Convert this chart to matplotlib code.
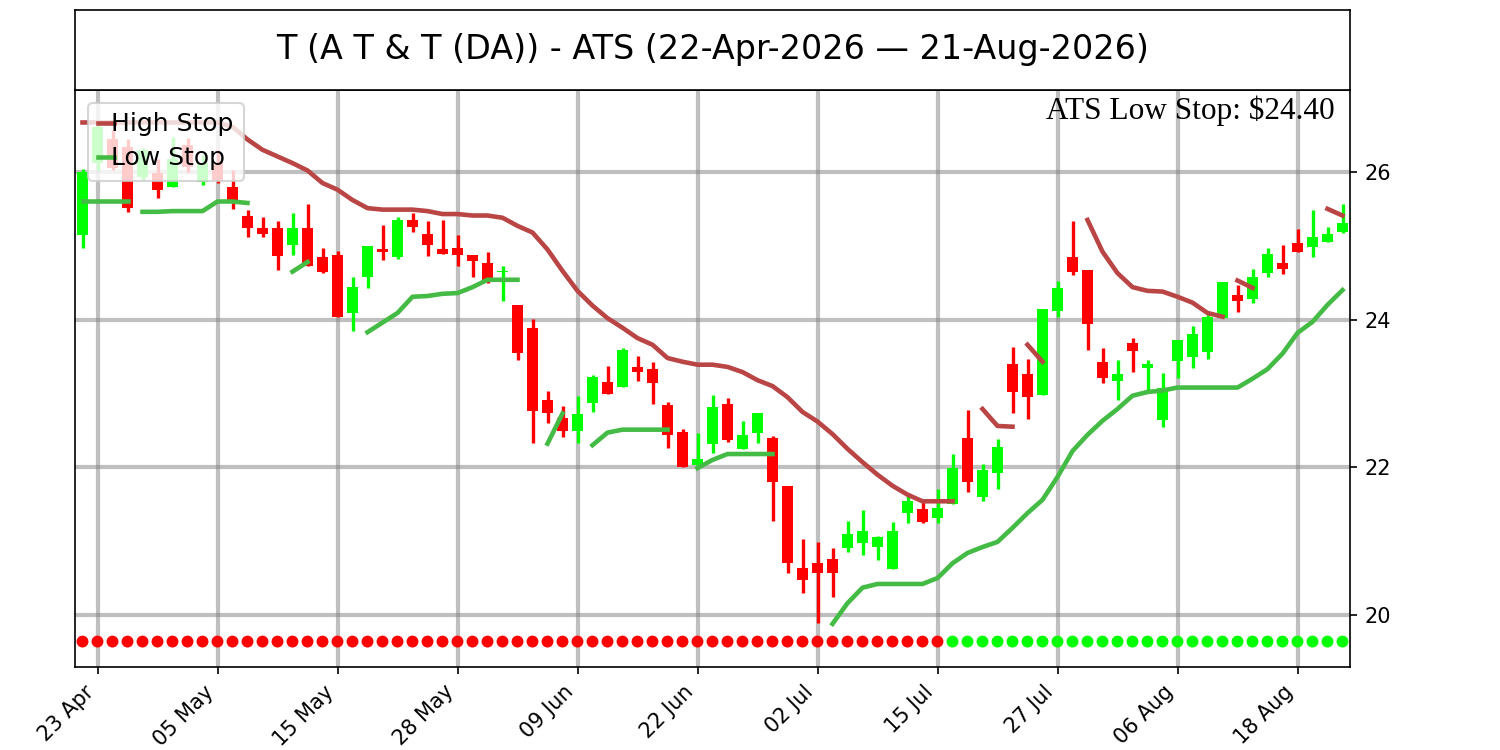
import matplotlib
matplotlib.use('Agg')
import matplotlib.pyplot as plt
import numpy as np
import pandas as pd

# trading days 22-Apr-2026 .. 21-Aug-2026 (NYSE holidays skipped)
holidays = ['2026-05-25', '2026-06-19', '2026-07-03']
dates = pd.bdate_range('2026-04-22', '2026-08-21', freq='C', holidays=holidays)

opens = [25.15, 26.12, 26.44, 26.34, 25.93, 25.99, 25.80, 26.37, 25.87, 26.14,
         25.80, 25.41, 25.24, 25.24, 25.01, 25.24, 24.85, 24.88, 24.09, 24.58,
         24.95, 24.85, 25.35, 25.16, 24.95, 24.97, 24.88, 24.77, 24.64, 24.20,
         23.89, 22.91, 22.67, 22.49, 22.87, 23.16, 23.09, 23.36, 23.33, 22.85,
         22.48, 22.03, 22.32, 22.86, 22.25, 22.47, 22.40, 21.75, 20.64, 20.70,
         20.76, 20.91, 20.98, 20.92, 20.62, 21.38, 21.44, 21.31, 21.50, 22.40,
         21.60, 21.92, 23.40, 23.27, 22.98, 24.12, 24.85, 24.67, 23.43, 23.17,
         23.69, 23.35, 22.64, 23.44, 23.50, 23.56, 24.02, 24.34, 24.28, 24.63,
         24.77, 25.04, 24.99, 25.05, 25.19]
highs = [26.04, 26.68, 26.57, 26.44, 26.33, 26.17, 26.48, 26.46, 26.23, 26.30,
         26.02, 25.49, 25.39, 25.34, 25.45, 25.56, 24.97, 24.93, 24.58, 25.00,
         25.28, 25.39, 25.45, 25.34, 25.35, 25.15, 24.88, 24.91, 24.72, 24.20,
         24.01, 23.04, 22.83, 22.97, 23.25, 23.37, 23.62, 23.51, 23.43, 22.89,
         22.52, 22.47, 22.98, 22.94, 22.63, 22.74, 22.43, 21.75, 21.03, 20.99,
         20.91, 21.27, 21.42, 21.07, 21.26, 21.63, 21.56, 21.71, 22.18, 22.78,
         22.05, 22.38, 23.63, 23.47, 24.15, 24.53, 25.33, 24.67, 23.62, 23.46,
         23.75, 23.46, 23.28, 23.73, 23.92, 24.09, 24.51, 24.47, 24.69, 24.97,
         25.01, 25.23, 25.49, 25.26, 25.56]
lows = [24.97, 26.02, 26.03, 25.46, 25.89, 25.65, 25.79, 26.00, 25.83, 25.85,
        25.50, 25.12, 25.12, 24.67, 24.88, 24.72, 24.63, 24.04, 23.85, 24.43,
        24.81, 24.82, 25.19, 24.86, 24.89, 24.73, 24.58, 24.50, 24.25, 23.46,
        22.33, 22.60, 22.41, 22.33, 22.75, 22.99, 23.09, 23.17, 22.86, 22.26,
        22.00, 21.99, 22.20, 22.34, 22.25, 22.33, 21.27, 20.57, 20.30, 19.89,
        20.24, 20.85, 20.81, 20.75, 20.62, 21.25, 21.25, 21.25, 21.50, 21.67,
        21.54, 21.71, 22.74, 22.66, 22.98, 24.04, 24.61, 23.59, 23.14, 22.91,
        23.29, 23.02, 22.55, 23.21, 23.35, 23.47, 24.02, 24.11, 24.23, 24.58,
        24.62, 24.91, 24.85, 25.05, 25.18]
closes = [26.00, 26.61, 26.06, 25.51, 26.30, 25.76, 26.17, 26.07, 26.12, 25.89,
          25.61, 25.24, 25.16, 24.86, 25.24, 24.73, 24.64, 24.04, 24.44, 25.00,
          24.92, 25.35, 25.26, 25.01, 24.89, 24.88, 24.79, 24.51, 24.66, 23.55,
          22.76, 22.74, 22.49, 22.72, 23.22, 22.99, 23.59, 23.29, 23.14, 22.44,
          22.01, 22.11, 22.82, 22.37, 22.44, 22.74, 21.80, 20.70, 20.47, 20.57,
          20.57, 21.10, 21.14, 21.06, 21.14, 21.54, 21.26, 21.45, 21.99, 21.80,
          21.96, 22.28, 23.02, 22.95, 24.15, 24.43, 24.65, 23.94, 23.21, 23.27,
          23.58, 23.40, 23.08, 23.73, 23.81, 24.04, 24.51, 24.25, 24.58, 24.89,
          24.69, 24.91, 25.12, 25.16, 25.31]

# stop lines come in separate pieces: (first day index, values)
high_stop_segments = [
    (0, [26.67, 26.67, 26.67, 26.67, 26.67, 26.67, 26.67, 26.67, 26.67, 26.67,
         26.61, 26.44, 26.30, 26.21, 26.12, 26.02, 25.85, 25.76, 25.62, 25.51,
         25.49, 25.49, 25.49, 25.47, 25.43, 25.43, 25.41, 25.41, 25.38, 25.27,
         25.18, 24.95, 24.66, 24.39, 24.19, 24.02, 23.89, 23.75, 23.66, 23.48,
         23.43, 23.39, 23.39, 23.36, 23.29, 23.18, 23.10, 22.95, 22.75, 22.62,
         22.45, 22.25, 22.07, 21.90, 21.75, 21.63, 21.54, 21.54, 21.54]),
    (60, [22.79, 22.56, 22.55]),
    (63, [23.66, 23.43]),
    (67, [25.35, 24.92, 24.63, 24.44, 24.39, 24.38, 24.31, 24.23, 24.09, 24.04]),
    (77, [24.53, 24.43]),
    (83, [25.50, 25.41]),
]
low_stop_segments = [
    (0, [25.61, 25.61, 25.61, 25.61]),
    (4, [25.46, 25.46, 25.47, 25.47, 25.47, 25.60, 25.60, 25.58]),
    (14, [24.65, 24.78]),
    (19, [23.83, 23.96, 24.09, 24.31, 24.32, 24.35, 24.36, 24.44, 24.54, 24.54, 24.54]),
    (31, [22.32, 22.73]),
    (34, [22.30, 22.47, 22.51, 22.51, 22.51, 22.51]),
    (41, [21.99, 22.10, 22.18, 22.18, 22.18, 22.18]),
    (50, [19.88, 20.16, 20.37, 20.42, 20.42, 20.42, 20.42, 20.50, 20.70, 20.84,
          20.92, 20.99, 21.18, 21.38, 21.56, 21.87, 22.22, 22.44, 22.63, 22.79,
          22.97, 23.02, 23.04, 23.08, 23.08, 23.08, 23.08, 23.08, 23.20, 23.33,
          23.54, 23.82, 23.97, 24.20, 24.40]),
]
# trend state per day: 0 = down (red dot), 1 = up (green dot)
trend = [0] * 58 + [1] * 27
dot_level = 19.64
last_low_stop = 24.40

GREEN = '#00ff00'
RED = '#ff0000'
HI_COL = '#b94545'
LO_COL = '#44bb44'

fig = plt.figure(figsize=(10, 5), dpi=150)
ax = fig.add_axes([0.05, 0.1107, 0.85, 0.7693])
tax = fig.add_axes([0.05, 0.88, 0.85, 0.1067])

n = len(opens)
x = np.arange(n)
o = np.array(opens); c = np.array(closes)
cols = [GREEN if c[i] >= o[i] else RED for i in range(n)]
ax.vlines(x, lows, highs, colors=cols, lw=1.6, zorder=2)
body = np.maximum(np.abs(c - o), 0.02)
ax.bar(x, body, bottom=np.minimum(o, c), width=0.7, color=cols, zorder=2)

for k, (start, vals) in enumerate(high_stop_segments):
    ax.plot(np.arange(start, start + len(vals)), vals, color=HI_COL, lw=2.2,
            zorder=3, label='High Stop' if k == 0 else None)
for k, (start, vals) in enumerate(low_stop_segments):
    ax.plot(np.arange(start, start + len(vals)), vals, color=LO_COL, lw=2.2,
            zorder=3, label='Low Stop' if k == 0 else None)

ax.scatter(x, [dot_level] * n, s=22, zorder=4,
           color=[GREEN if t else RED for t in trend])

ax.set_xlim(-0.5, n - 0.5)
ax.set_ylim(19.296, 27.11)
ax.set_yticks([20, 22, 24, 26])
ax.yaxis.tick_right()
tick_pos = list(range(1, n, 8))
ax.set_xticks(tick_pos)
ax.set_xticklabels([dates[i].strftime('%d %b') for i in tick_pos], rotation=45, ha='right')
ax.set_axisbelow(True)
ax.grid(True, color='gray', alpha=0.5, lw=2)

ax.legend(loc='upper left', fontsize=12, handlelength=0.65, handletextpad=-0.1,
          labelspacing=0.4)
ax.text(0.988, 0.99, 'ATS Low Stop: \\$%.2f' % last_low_stop, transform=ax.transAxes,
        ha='right', va='top', fontsize=15, family='Liberation Serif')

tax.set_xticks([])
tax.set_yticks([])
tax.text(0.5, 0.5, 'T (A T & T (DA)) - ATS (%s \u2014 %s)' % (
    dates[0].strftime('%d-%b-%Y'), dates[-1].strftime('%d-%b-%Y')),
    ha='center', va='center', fontsize=16, transform=tax.transAxes)

fig.savefig('out.png', dpi=150)
